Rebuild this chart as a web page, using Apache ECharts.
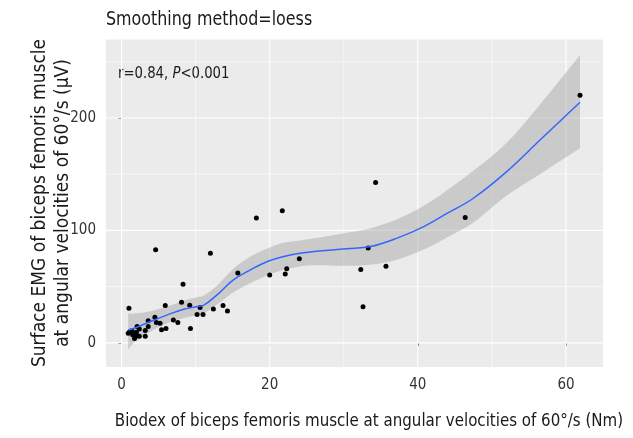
<!DOCTYPE html>
<html>
<head>
<meta charset="utf-8">
<script src="https://cdn.jsdelivr.net/npm/echarts@6/dist/echarts.min.js"></script>
<style>html,body{margin:0;padding:0;background:#fff}#c{width:633px;height:438px}</style>
</head>
<body>
<div id="c"></div>
<script>
// Observed points [Biodex (Nm), EMG (µV)]
const points = [
  [1.0,30.8],[4.6,82.7],[12.0,79.7],[8.3,52.1],[15.7,62.2],[20.0,60.4],[22.1,61.3],[22.3,65.8],
  [24.0,74.7],[18.2,111.1],[21.7,117.5],[34.3,142.5],[46.4,111.4],[33.3,84.4],[32.3,65.2],
  [35.7,68.2],[32.6,32.0],[61.9,220.2],[5.9,33.2],[8.1,36.2],[9.2,33.5],[10.6,31.4],[10.2,25.2],
  [11.0,25.2],[12.4,30.2],[13.7,33.2],[14.3,28.4],[9.3,12.7],[4.5,22.8],[3.6,19.6],[4.7,18.1],
  [5.2,17.5],[5.4,11.6],[6.0,12.7],[7.0,20.2],[7.6,18.1],[3.6,14.5],[3.2,10.9],[3.2,5.9],
  [2.4,12.2],[2.1,14.5],[2.4,5.9],[2.1,6.2],[1.75,3.8],[1.5,7.1],[1.1,9.8],[1.4,10.7],[0.9,8.5],[2.0,9.5]
];
// Loess fit and confidence band
const fitX  = [0.9, 1.7, 3.9, 6.2, 8.4, 10.2, 11.1, 12.9, 15.1, 17.4, 19.7, 21.9, 24.1, 26.0, 30.4, 33.6, 37.2, 40.8, 44.0, 47.5, 52.0, 56.5, 61.9];
const fitY  = [11.5, 13, 19, 24.9, 29.9, 32.3, 33.5, 42.7, 56, 64.9, 72.3, 76.7, 79.7, 81.2, 83.6, 85.6, 93.1, 103.4, 115.3, 128.6, 152.3, 180.4, 214];
const upper = [26, 26, 28, 32.5, 37.5, 40.5, 42, 51, 66, 76.7, 84, 89, 91, 93, 98, 102, 110, 122, 136, 153, 178, 212, 256];
const lower = [-6, 0, 10, 17.5, 22, 24.5, 26, 34, 45, 53, 60, 65, 68, 69, 68.5, 69.5, 74, 83, 94, 107, 131, 150, 173];
// Axis ticks
const xTicks = [0, 20, 40, 60];
const xMinor = [10, 30, 50];
const yTicks = [0, 100, 200];
const yMinor = [50, 150, 250];

const FONT = "'Liberation Sans Narrow','DejaVu Sans Condensed','Roboto',sans-serif";
const xMin = -2.1, xMax = 65.0, yMin = -21.5, yMax = 269.8;

const gridData = [];
xTicks.forEach(v => gridData.push([v, 0, 1]));
xMinor.forEach(v => gridData.push([v, 0, 0]));
yTicks.forEach(v => gridData.push([v, 1, 1]));
yMinor.forEach(v => gridData.push([v, 1, 0]));

// Catmull-Rom through screen points -> SVG path segments (drawing only)
function smoothSeg(p, first) {
  let d = first ? 'M' + p[0][0] + ' ' + p[0][1] : 'L' + p[0][0] + ' ' + p[0][1];
  const t = 0.25;
  for (let i = 0; i < p.length - 1; i++) {
    const p0 = p[Math.max(i - 1, 0)], p1 = p[i], p2 = p[i + 1], p3 = p[Math.min(i + 2, p.length - 1)];
    const c1 = [p1[0] + (p2[0] - p0[0]) * t / 1.5, p1[1] + (p2[1] - p0[1]) * t / 1.5];
    const c2 = [p2[0] - (p3[0] - p1[0]) * t / 1.5, p2[1] - (p3[1] - p1[1]) * t / 1.5];
    d += ' C' + c1[0] + ' ' + c1[1] + ' ' + c2[0] + ' ' + c2[1] + ' ' + p2[0] + ' ' + p2[1];
  }
  return d;
}

const chart = echarts.init(document.getElementById('c'), null, {renderer: 'canvas'});
chart.setOption({
  animation: false,
  backgroundColor: '#ffffff',
  grid: {left: 106, right: 30, top: 39.5, bottom: 71, show: true, backgroundColor: '#EBEBEB', borderWidth: 0},
  xAxis: {
    type: 'value', min: xMin, max: xMax,
    axisLine: {show: false},
    splitLine: {show: false},
    axisTick: {show: true, customValues: xTicks, length: 3, lineStyle: {color: '#333', width: 1}},
    axisLabel: {customValues: xTicks, color: '#333333', fontFamily: FONT, fontSize: 15, margin: 11}
  },
  yAxis: {
    type: 'value', min: yMin, max: yMax,
    axisLine: {show: false},
    splitLine: {show: false},
    axisTick: {show: true, customValues: yTicks, length: 3, lineStyle: {color: '#333', width: 1}},
    axisLabel: {customValues: yTicks, color: '#333333', fontFamily: FONT, fontSize: 15, margin: 10}
  },
  series: [
    {
      type: 'custom', z: 1, silent: true,
      data: gridData,
      renderItem: function (params, api) {
        const cs = params.coordSys;
        const v = api.value(0), isY = api.value(1), major = api.value(2);
        let shape;
        if (isY) {
          const py = api.coord([0, v])[1];
          shape = {x1: cs.x, y1: py, x2: cs.x + cs.width, y2: py};
        } else {
          const px = api.coord([v, 0])[0];
          shape = {x1: px, y1: cs.y, x2: px, y2: cs.y + cs.height};
        }
        return {type: 'line', shape: shape, style: {stroke: '#ffffff', lineWidth: major ? 1.1 : 0.55}};
      }
    },
    {
      type: 'custom', z: 2, silent: true,
      data: fitX.map((x, i) => [x, upper[i], lower[i]]),
      encode: {x: 0, y: [1, 2]},
      renderItem: function (params, api) {
        if (params.dataIndex !== 0) return;
        const up = fitX.map((x, i) => api.coord([x, upper[i]]));
        const lo = fitX.map((x, i) => api.coord([x, lower[i]])).reverse();
        const d = smoothSeg(up, true) + ' ' + smoothSeg(lo, false) + ' Z';
        return {type: 'path', shape: {pathData: d}, style: {fill: 'rgba(153,153,153,0.4)'}};
      }
    },
    {
      type: 'scatter', z: 3, silent: true,
      data: points, symbolSize: 5,
      itemStyle: {color: '#000000', opacity: 1}
    },
    {
      type: 'line', z: 4, silent: true,
      data: fitX.map((x, i) => [x, fitY[i]]),
      smooth: 0.4, showSymbol: false, symbol: 'none',
      lineStyle: {color: '#3366FF', width: 1.5}
    }
  ],
  graphic: [
    {type: 'text', x: 106, y: 20, scaleX: 0.93, style: {text: 'Smoothing method=loess', font: "19px " + FONT, fill: '#1A1A1A', verticalAlign: 'middle'}},
    {type: 'text', x: 118, y: 74, scaleX: 0.95, style: {
      text: '{a|r=0.84, }{b|P}{a|<0.001}', verticalAlign: 'middle',
      rich: {a: {fontFamily: FONT, fontSize: 15.5, fill: '#1A1A1A'}, b: {fontFamily: FONT, fontSize: 15.5, fontStyle: 'italic', fill: '#1A1A1A'}}
    }},
    {type: 'text', x: 52, y: 203, rotation: Math.PI / 2, style: {
      text: 'Surface EMG of biceps femoris muscle\nat angular velocities of 60°/s (μV)',
      font: "19px " + FONT, fill: '#1A1A1A', align: 'center', verticalAlign: 'middle', lineHeight: 23
    }},
    {type: 'text', x: 369, y: 421, scaleX: 0.93, style: {
      text: 'Biodex of biceps femoris muscle at angular velocities of 60°/s (Nm)',
      font: "18px " + FONT, fill: '#1A1A1A', align: 'center', verticalAlign: 'middle'
    }}
  ]
});
</script>
</body>
</html>
